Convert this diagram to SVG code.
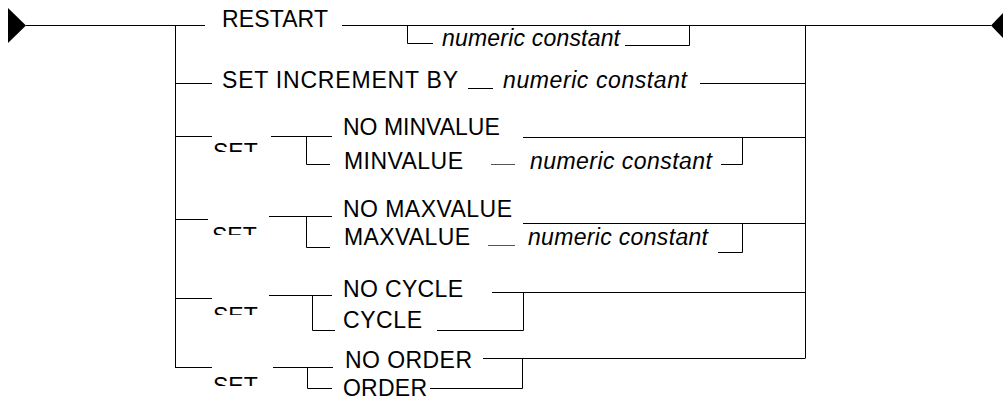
<svg xmlns="http://www.w3.org/2000/svg" width="1003" height="397" viewBox="0 0 1003 397">
<style>
.t{font-family:"Liberation Sans",Arial,sans-serif;font-size:23px;fill:#000}
.i{font-style:italic}
.c{fill:none;stroke:#000;stroke-width:1}
.g{fill:none;stroke:#555;stroke-width:1}
</style>
<defs>
<clipPath id="c3"><rect x="200" y="130" width="80" height="22"/></clipPath>
<clipPath id="c4"><rect x="200" y="215" width="80" height="20"/></clipPath>
<clipPath id="c5"><rect x="200" y="300" width="80" height="15"/></clipPath>
<clipPath id="c6"><rect x="200" y="370" width="80" height="16"/></clipPath>
</defs>
<rect width="1003" height="397" fill="#fff"/>
<g id="connectors">
<polygon points="8,8 26,25.5 8,43" fill="#000"/>
<polygon points="991,25.5 1004,12 1017,25.5 1004,39" fill="#000"/>
<path class="c" d="M26 25.5H205M342 25.5H991M175.5 25.5V367.5M805.5 25.5V358.5"/>
<path class="c" d="M407.5 25.5V43.5H433M625 45.5H689.5V25.5"/>
<path class="c" d="M175.5 83.5H212M468 88.5H493M700 83.5H805.5"/>
<path class="c" d="M175 136.5H212M271 136.5H332M306.5 136.5V164.5H330M523 137.5H805M721 164.5H742.5V137.5"/>
<path class="g" d="M491 164.5H515"/>
<path class="c" d="M175 219.5H208M269 216.5H332M306.5 216.5V247.5H330M523 223.5H805M718 252.5H742.5V223.5"/>
<path class="g" d="M488 245.5H515"/>
<path class="c" d="M175 298.5H212M269 295.5H332M312.5 295.5V330.5H335M492 292.5H805M437 330.5H523.5V292.5"/>
<path class="c" d="M175 367.5H212M273 367.5H333M307.5 367.5V388.5H332M483 358.5H805M430 388.5H522.5V358.5"/>
</g>
<g id="restart"><text class="t" x="222" y="27" textLength="106">RESTART</text><text class="t i" x="442" y="46" textLength="178">numeric constant</text></g>
<g id="increment"><text class="t" x="222" y="88" textLength="236">SET INCREMENT BY</text><text class="t i" x="503" y="88" textLength="184">numeric constant</text></g>
<g id="minvalue"><text class="t" x="213" y="159.5" clip-path="url(#c3)">SET</text><text class="t" x="343" y="135">NO MINVALUE</text><text class="t" x="344" y="169" textLength="119">MINVALUE</text><text class="t i" x="530" y="169" textLength="182">numeric constant</text></g>
<g id="maxvalue"><text class="t" x="212" y="243.5" clip-path="url(#c4)">SET</text><text class="t" x="343" y="217" textLength="169">NO MAXVALUE</text><text class="t" x="344" y="245" textLength="126">MAXVALUE</text><text class="t i" x="528" y="245" textLength="180">numeric constant</text></g>
<g id="cycle"><text class="t" x="213" y="323.5" clip-path="url(#c5)">SET</text><text class="t" x="343" y="297" textLength="120">NO CYCLE</text><text class="t" x="343" y="328" textLength="79">CYCLE</text></g>
<g id="order"><text class="t" x="213" y="393.5" clip-path="url(#c6)">SET</text><text class="t" x="345" y="368" textLength="127">NO ORDER</text><text class="t" x="343" y="396" textLength="84">ORDER</text></g>
</svg>
